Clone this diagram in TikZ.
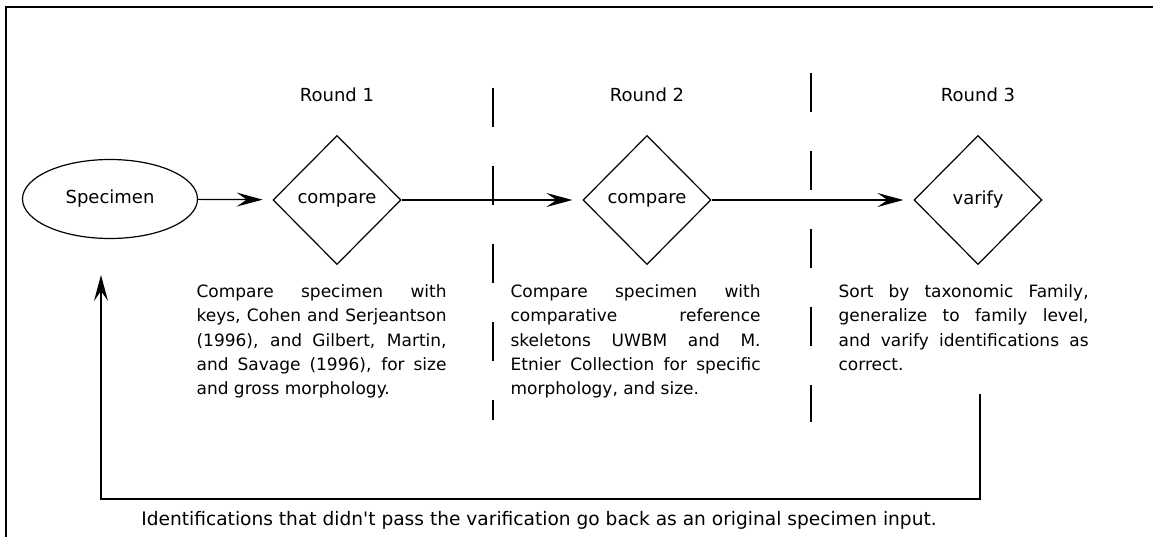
\documentclass[tikz,border=0pt]{standalone}
\usepackage{fontspec}
\setmainfont{DejaVu Sans}[Ligatures=TeXOff]
\usetikzlibrary{shapes.geometric,arrows.meta}

% one line of a justified block, spread to the full block width
\newlength{\blockw}
\setlength{\blockw}{250pt}
\newcommand{\jline}[1]{\makebox[\blockw][s]{#1}}

\begin{document}
\begin{tikzpicture}[x=1pt,y=-1pt,
    line width=1.2pt,
    every node/.style={font=\fontsize{18}{24}\selectfont, inner sep=0pt},
    startnode/.style={draw, ellipse, minimum width=175pt, minimum height=79pt},
    decision/.style={draw, diamond, minimum width=128pt, minimum height=129pt},
    flow/.style={-{Stealth[length=26pt,width=14pt,inset=10pt]}, shorten >=10pt},
    divider/.style={line width=1.2pt, dash pattern=on 39pt off 39pt},
    notes/.style={anchor=north west, align=left,
                  font=\fontsize{17}{24.3}\selectfont}]

  \useasboundingbox (0,0) rectangle (1153,537);

  % frame
  \draw[line width=1.6pt] (6,537) -- (6,7) -- (1153,7);

  % round headings
  \node (r1) at (337,95) {Round 1};
  \node (r2) at (647,95) {Round 2};
  \node (r3) at (978,95) {Round 3};

  % round separators
  \draw[divider] (493,88) -- (493,420);
  \draw[divider] (811,73) -- (811,422);

  % main flow
  \node[startnode] (spec) at (110,199) {Specimen};
  \node[decision] (cmp1) at (337,200) {compare};
  \node[decision] (cmp2) at (647,200) {compare};
  \node[decision] (ver)  at (978,200) {varify};

  \draw[flow] (spec) -- (cmp1);
  \draw[flow] (cmp1) -- (cmp2);
  \draw[flow] (cmp2) -- (ver);

  % descriptions
  \node[notes] (d1) at (196,284) {%
    \jline{Compare specimen with}\\
    \jline{keys, Cohen and Serjeantson}\\
    \jline{(1996), and Gilbert, Martin,}\\
    \jline{and Savage (1996), for size}\\
    and gross morphology.};
  \node[notes] (d2) at (510,284) {%
    \jline{Compare specimen with}\\
    \jline{comparative reference}\\
    \jline{skeletons UWBM and M.}\\
    \jline{Etnier Collection for specific}\\
    morphology, and size.};
  \node[notes] (d3) at (838,284) {%
    \jline{Sort by taxonomic Family,}\\
    \jline{generalize to family level,}\\
    \jline{and varify identifications as}\\
    correct.};

  % feedback loop
  \coordinate (fbstart) at (980,394);
  \coordinate (fbcorner) at (980,499);
  \coordinate (fbend) at (101,275);
  \draw[flow, shorten >=0pt] (fbstart) -- (fbcorner) -| (fbend);
  \node[font=\fontsize{18.6}{24}\selectfont] (fbnote) at (539,520)
    {Identifications that didn't pass the varification go back as an original specimen input.};
\end{tikzpicture}
\end{document}
